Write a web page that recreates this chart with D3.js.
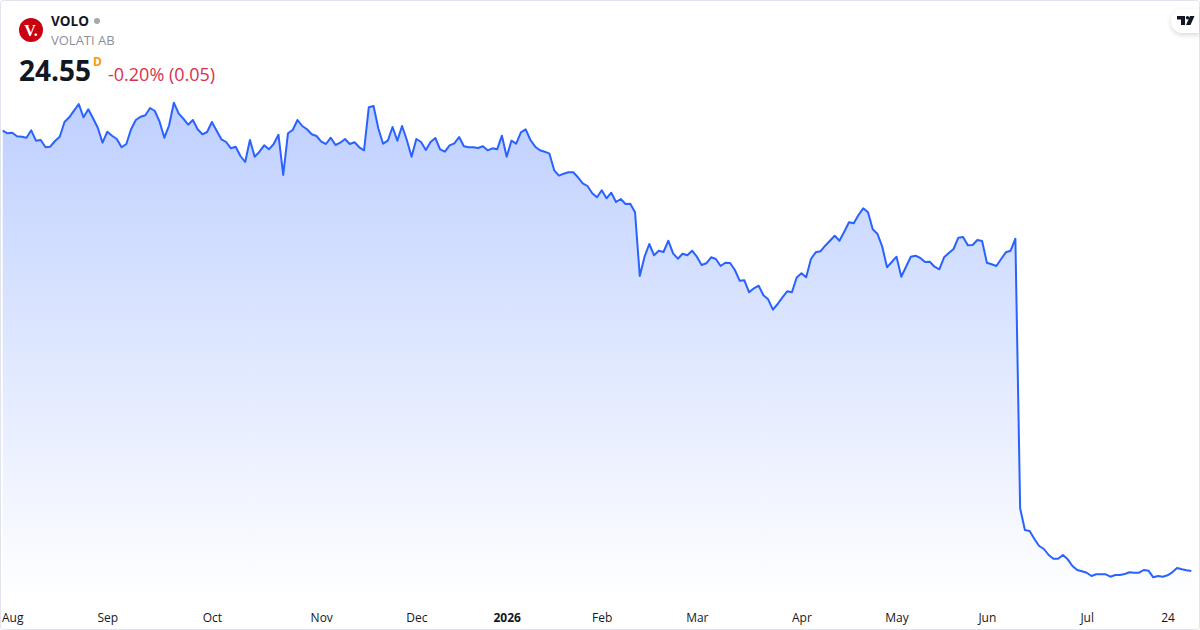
<!DOCTYPE html>
<html>
<head>
<meta charset="utf-8">
<script src="https://cdn.jsdelivr.net/npm/d3@7"></script>
<style>
html, body { margin: 0; padding: 0; background: #fff; }
svg { display: block; }
text { font-family: "Open Sans", "Noto Sans", sans-serif; }
</style>
</head>
<body>
<div id="chart"></div>
<script>
var prices = [
  68.58,68.32,68.38,68.02,67.98,67.88,68.62,67.58,67.65,66.92,66.98,67.55,67.98,69.45,69.92,70.58,71.25,69.92,70.72,69.82,
  68.88,67.38,68.48,68.08,67.75,66.92,67.25,68.72,69.65,69.98,70.12,70.85,70.55,69.48,67.88,69.12,71.38,70.32,69.78,69.18,
  69.65,68.72,68.22,68.45,69.45,68.58,67.72,67.45,66.82,66.98,66.05,65.45,67.65,65.98,66.48,67.12,66.72,67.25,68.18,64.15,
  68.32,68.65,69.65,
  69.05,68.72,68.22,68.05,67.48,67.25,67.88,67.15,67.38,67.75,67.25,67.42,66.92,66.62,70.92,71.05,68.82,67.28,67.58,68.95,
  67.58,69.05,67.65,65.98,67.75,67.45,66.65,67.45,67.85,66.72,66.48,67.12,67.32,67.95,67.02,66.92,66.92,66.85,67.02,66.62,
  66.82,66.72,68.08,65.98,67.58,67.28,68.42,68.72,67.65,66.98,66.62,66.48,66.28,
  64.62,64.08,64.28,64.42,64.42,63.92,63.32,63.05,62.32,61.92,62.62,61.82,62.38,61.45,61.75,61.25,61.28,60.42,54.05,55.98,
  57.25,56.12,56.58,56.45,57.58,56.32,55.78,56.28,56.12,56.58,55.98,55.15,55.32,55.92,55.75,55.05,55.38,55.35,54.65,53.58,
  53.62,52.42,52.82,53.08,52.12,51.72,50.68,51.25,51.92,52.52,52.42,53.90,
  54.32,53.92,55.75,56.42,56.52,57.08,57.58,58.08,57.58,58.48,59.42,59.32,60.15,60.82,60.42,58.72,58.25,56.98,54.92,55.45,
  55.98,53.98,54.98,55.98,56.08,55.85,55.45,55.48,54.98,54.72,55.92,56.35,56.75,57.88,57.95,57.12,57.15,57.65,57.55,55.38,
  55.22,55.05,55.75,56.42,56.58,57.78,
  30.82,28.65,28.55,27.75,27.05,26.75,26.15,25.78,25.78,26.15,25.72,25.05,24.65,24.52,24.38,24.05,24.22,24.22,24.22,23.98,
  24.15,24.15,24.25,24.42,24.38,24.38,24.65,24.58,23.92,24.05,23.98,24.12,24.42,24.85,24.72,24.62,24.55
];

var tickLabels = ["Aug","Sep","Oct","Nov","Dec","2026","Feb","Mar","Apr","May","Jun","Jul","24"];
var tickIndex = [2,22,44,67,87,106,126,146,168,188,207,228,245];

var width = 1200, height = 630;

var svg = d3.select("#chart").append("svg")
    .attr("width", width)
    .attr("height", height);

var x = d3.scaleLinear().domain([0, prices.length - 1]).range([2.7, 1191.3]);
var y = d3.scaleLinear().domain([24.55, 71.35]).range([571, 103]);

var defs = svg.append("defs");
var grad = defs.append("linearGradient")
    .attr("id", "fill")
    .attr("gradientUnits", "userSpaceOnUse")
    .attr("x1", 0).attr("x2", 0)
    .attr("y1", 100).attr("y2", 601);
grad.append("stop").attr("offset", "0%").attr("stop-color", "#2962ff").attr("stop-opacity", 0.3);
grad.append("stop").attr("offset", "100%").attr("stop-color", "#2962ff").attr("stop-opacity", 0.0);

var shadow = defs.append("filter").attr("id", "pill").attr("x", "-30%").attr("y", "-30%").attr("width", "160%").attr("height", "180%");
shadow.append("feDropShadow").attr("dx", 0).attr("dy", 2).attr("stdDeviation", 2.5)
    .attr("flood-color", "#000").attr("flood-opacity", 0.16);

var area = d3.area()
    .x(function(d, i) { return x(i); })
    .y0(601)
    .y1(function(d) { return y(d); });

var line = d3.line()
    .x(function(d, i) { return x(i); })
    .y(function(d) { return y(d); });

svg.append("path").datum(prices)
    .attr("d", area)
    .attr("fill", "url(#fill)");

svg.append("path").datum(prices)
    .attr("d", line)
    .attr("fill", "none")
    .attr("stroke", "#2962ff")
    .attr("stroke-width", 2)
    .attr("stroke-linejoin", "round");

// time axis, labels only
var axis = d3.axisBottom(x)
    .tickValues(tickIndex)
    .tickSize(0)
    .tickPadding(0)
    .tickFormat(function(d, i) { return tickLabels[i]; });

var gAxis = svg.append("g")
    .attr("transform", "translate(0,614)")
    .call(axis);
gAxis.select(".domain").remove();
gAxis.selectAll("text")
    .attr("fill", "#131722")
    .attr("dy", "0.7em")
    .style("font-size", "12px")
    .style("font-family", '"Open Sans", sans-serif')
    .style("font-weight", function(d, i) { return tickLabels[i] == "2026" ? 700 : 400; });

// frame
svg.append("rect")
    .attr("x", 0.5).attr("y", 0.5)
    .attr("width", width - 1).attr("height", height - 1)
    .attr("rx", 3)
    .attr("fill", "none")
    .attr("stroke", "#e0e3eb");

// header
svg.append("circle").attr("cx", 31).attr("cy", 30).attr("r", 12).attr("fill", "#c8000f");
svg.append("text").attr("x", 31).attr("y", 36)
    .attr("text-anchor", "middle")
    .attr("fill", "#fff")
    .style("font-family", '"Liberation Serif", serif')
    .style("font-weight", 700)
    .style("font-size", "16px")
    .text("V.");

svg.append("text").attr("x", 51).attr("y", 26)
    .attr("fill", "#131722")
    .style("font-size", "13.5px").style("font-weight", 700)
    .text("VOLO");
svg.append("circle").attr("cx", 97).attr("cy", 21).attr("r", 3).attr("fill", "#a8a8a8");
svg.append("text").attr("x", 51).attr("y", 45)
    .attr("fill", "#8c8f98")
    .style("font-size", "13px")
    .text("VOLATI AB");
svg.append("text").attr("x", 19).attr("y", 81)
    .attr("fill", "#131722")
    .style("font-size", "28px").style("font-weight", 700)
    .text("24.55");
svg.append("text").attr("x", 93).attr("y", 66)
    .attr("fill", "#ff9800")
    .style("font-size", "12px").style("font-weight", 700)
    .text("D");
svg.append("text").attr("x", 108).attr("y", 81)
    .attr("fill", "#d9304f")
    .style("font-size", "18px")
    .text("-0.20% (0.05)");

// tradingview badge
svg.append("path")
    .attr("d", "M1199 9H1183a12 12 0 0 0 0 24H1199Z")
    .attr("fill", "#fff")
    .attr("filter", "url(#pill)");
svg.append("path")
    .attr("d", "M1177 16H1185V25H1181V19.5H1177ZM1190 16H1194.5L1190.5 25H1186Z")
    .attr("fill", "#131722");
svg.append("circle").attr("cx", 1187.5).attr("cy", 17.7).attr("r", 1.7).attr("fill", "#131722");
</script>
</body>
</html>
